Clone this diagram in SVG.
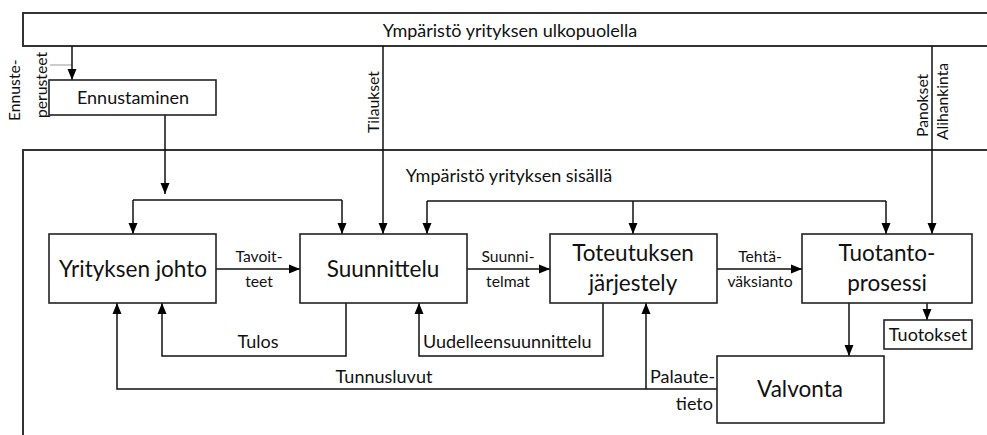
<svg xmlns="http://www.w3.org/2000/svg" width="987" height="435" viewBox="0 0 987 435">
<defs>
<marker id="ah" markerUnits="userSpaceOnUse" markerWidth="12" markerHeight="12" viewBox="0 0 12 12" refX="11" refY="6" orient="auto">
<path d="M0,1.5 L11,6 L0,10.5 Z" fill="#000"/>
</marker>
<style>
text{font-family:Lato,"Liberation Sans",sans-serif;fill:#111}
.frame{fill:none;stroke:#333;stroke-width:2}
.box{fill:#fff;stroke:#222;stroke-width:1.6}
.ln{fill:none;stroke:#111;stroke-width:1.5}
.arr{fill:none;stroke:#111;stroke-width:1.5;marker-end:url(#ah)}
.big{font-size:22.5px;text-anchor:middle}
.mid{font-size:18px}
.sm{font-size:15.7px}
.c{text-anchor:middle}
</style>
</defs>
<rect class="frame" x="23" y="13" width="1000" height="33"/>
<rect class="frame" x="23" y="150" width="1000" height="400"/>
<text class="mid c" x="510" y="37">Ympäristö yrityksen ulkopuolella</text>
<text class="mid c" x="509" y="182">Ympäristö yrityksen sisällä</text>
<text class="sm" transform="translate(20,121) rotate(-90)">Ennuste-</text>
<text class="sm" transform="translate(47,118) rotate(-90)">perusteet</text>
<text class="sm" transform="translate(379,133) rotate(-90)">Tilaukset</text>
<text class="sm" transform="translate(928,137) rotate(-90)">Panokset</text>
<text class="sm" transform="translate(948,140) rotate(-90)">Alihankinta</text>

<g id="connectors">
<line x1="50" y1="65" x2="72" y2="65" stroke="#999" stroke-width="1"/>
<path class="arr" d="M72,46 V80"/>
<path class="arr" d="M165,115 V194"/>
<path class="ln" d="M133,200 H342"/>
<path class="arr" d="M133,200 V234"/>
<path class="arr" d="M342,200 V234"/>
<path class="arr" d="M383,46 V234"/>
<path class="ln" d="M427,201 H886"/>
<path class="arr" d="M427,201 V234"/>
<path class="arr" d="M633,201 V234"/>
<path class="arr" d="M886,201 V234"/>
<path class="arr" d="M932,46 V234"/>
<path class="arr" d="M216,269 H300"/>
<path class="arr" d="M467,269 H550"/>
<path class="arr" d="M717,269 H802"/>
<path class="arr" d="M346,303 V356 H162 V303"/>
<path class="arr" d="M603,303 V356 H419 V303"/>
<path class="arr" d="M717,389 H117 V303"/>
<path class="arr" d="M646,389 V303"/>
<path class="arr" d="M849,303 V356"/>
<path class="arr" d="M927,303 V320"/>
<text class="sm c" x="259" y="262">Tavoit-</text>
<text class="sm c" x="259" y="287">teet</text>
<text class="sm c" x="508" y="262">Suunni-</text>
<text class="sm c" x="508" y="287">telmat</text>
<text class="sm c" x="760" y="262">Tehtä-</text>
<text class="sm c" x="760" y="287">väksianto</text>
<text class="mid c" x="258" y="348">Tulos</text>
<text class="mid" x="423" y="348">Uudelleensuunnittelu</text>
<text class="mid c" x="384" y="383">Tunnusluvut</text>
<text class="mid" x="650" y="383">Palaute-</text>
<text class="mid" x="713" y="410" text-anchor="end">tieto</text>
</g>

<g id="ennustaminen">
<rect class="box" x="49" y="80" width="167" height="35"/>
<text class="mid c" x="133" y="104">Ennustaminen</text>
</g>
<g id="yrityksen-johto">
<rect class="box" x="49" y="234" width="167" height="69"/>
<text class="big" x="133" y="277">Yrityksen johto</text>
</g>
<g id="suunnittelu">
<rect class="box" x="300" y="234" width="167" height="69"/>
<text class="big" x="383" y="277">Suunnittelu</text>
</g>
<g id="toteutuksen-jarjestely">
<rect class="box" x="550" y="234" width="167" height="69"/>
<text class="big" x="633" y="261">Toteutuksen</text>
<text class="big" x="633" y="291">järjestely</text>
</g>
<g id="tuotantoprosessi">
<rect class="box" x="802" y="234" width="170" height="69"/>
<text class="big" x="887" y="261">Tuotanto-</text>
<text class="big" x="887" y="291">prosessi</text>
</g>
<g id="tuotokset">
<rect class="box" x="884" y="320" width="88" height="29"/>
<text class="mid c" x="928" y="341">Tuotokset</text>
</g>
<g id="valvonta">
<rect class="box" x="717" y="356" width="167" height="67"/>
<text class="big" x="800" y="397">Valvonta</text>
</g>
</svg>
